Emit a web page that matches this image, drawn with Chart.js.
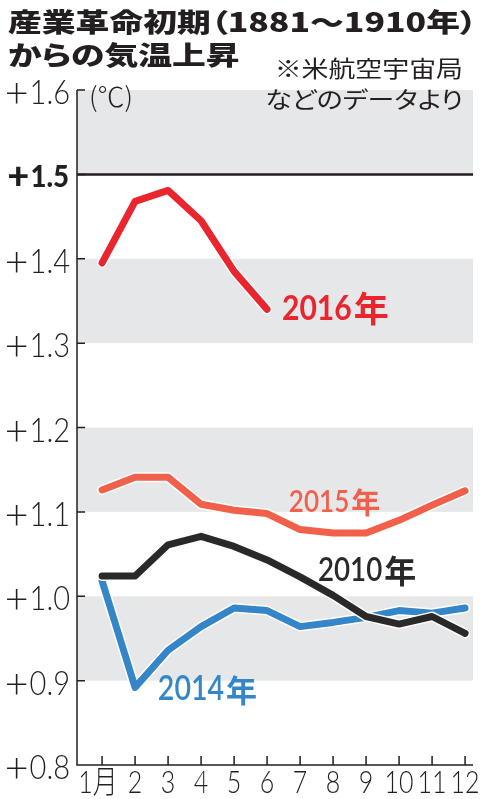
<!DOCTYPE html>
<html><head><meta charset="utf-8">
<script src="https://cdn.jsdelivr.net/npm/chart.js@4"></script>
<style>
html,body{margin:0;padding:0;background:#fff;width:483px;height:799px;overflow:hidden;}
#wrap{position:relative;width:483px;height:799px;}
canvas{position:absolute;left:0;top:0;}
.t{position:absolute;font-family:"Noto Sans CJK JP";white-space:nowrap;color:#231f20;line-height:1;font-feature-settings:"palt";}
#t1{left:8px;top:8px;font-size:26px;font-weight:900;transform:scaleX(1.3);transform-origin:left top;}
#t2{left:8px;top:41px;font-size:26px;font-weight:900;transform:scaleX(1.3);transform-origin:left top;}
#n1{right:20px;top:56px;font-size:23px;font-weight:400;transform:scaleX(1.17);transform-origin:right top;}
#n2{right:20px;top:87px;font-size:23px;font-weight:400;transform:scaleX(1.17);transform-origin:right top;}
#unit{left:89px;top:82px;font-size:27px;font-weight:300;transform:scaleX(1.0);transform-origin:left top;font-feature-settings:normal;}
</style>
</head><body>
<div id="wrap">
<canvas id="c" width="483" height="799"></canvas>
<div class="t" id="t1">産業革命初期（1881〜1910年）</div>
<div class="t" id="t2">からの気温上昇</div>
<div class="t" id="n1">※米航空宇宙局</div>
<div class="t" id="n2">などのデータより</div>
<div class="t" id="unit">(℃)</div>
</div>
<script>
// ---- data ----
const months = ['1月','2','3','4','5','6','7','8','9','10','11','12'];
const temp2016 = [1.395,1.468,1.481,1.445,1.385,1.340];
const temp2015 = [1.126,1.141,1.141,1.109,1.102,1.098,1.079,1.075,1.075,1.090,1.108,1.125];
const temp2010 = [1.024,1.024,1.061,1.071,1.059,1.043,1.023,1.001,0.976,0.967,0.976,0.956];
const temp2014 = [1.018,0.892,0.936,0.964,0.986,0.983,0.964,0.969,0.975,0.983,0.980,0.986];
const yTickValues = [0.8,0.9,1.0,1.1,1.2,1.3,1.4,1.5,1.6];
const yTickLabels = ['+0.8','+0.9','+1.0','+1.1','+1.2','+1.3','+1.4','+1.5','+1.6'];
const shadedBands = [[0.9,1.0],[1.1,1.2],[1.3,1.4],[1.5,1.6]];
const limitValue = 1.5;

const toPts = arr => arr.map((v,i)=>({x:i+1,y:v}));

function drawText(ctx, text, px, py, font, color, sx, align){
  ctx.save();
  ctx.font = font; ctx.fillStyle = color; ctx.textBaseline = 'alphabetic'; ctx.textAlign = 'left';
  const w = ctx.measureText(text).width * sx;
  const x0 = align === 'right' ? px - w : (align === 'center' ? px - w/2 : px);
  ctx.translate(x0, py); ctx.scale(sx, 1);
  ctx.fillText(text, 0, 0);
  ctx.restore();
  return w;
}

const AXIS = '#231f20';
const decor = {
  id: 'decor',
  beforeDatasetsDraw(chart){
    const {ctx, chartArea:a, scales:{x, y}} = chart;
    ctx.save();
    ctx.fillStyle = '#e6e7e8';
    shadedBands.forEach(([lo,hi])=>{
      const t = y.getPixelForValue(hi), b = y.getPixelForValue(lo);
      ctx.fillRect(a.left, t, a.right - a.left, b - t);
    });
    ctx.strokeStyle = AXIS;
    ctx.lineWidth = 2.5;
    const ly = y.getPixelForValue(limitValue);
    ctx.beginPath(); ctx.moveTo(a.left, ly); ctx.lineTo(a.right, ly); ctx.stroke();
    ctx.lineWidth = 1.5;
    ctx.beginPath();
    ctx.moveTo(a.left, a.top); ctx.lineTo(a.left, a.bottom); ctx.lineTo(a.right, a.bottom);
    yTickValues.forEach(v=>{ const py = y.getPixelForValue(v); ctx.moveTo(a.left, py); ctx.lineTo(a.left + 8, py); });
    months.forEach((m,i)=>{ const px = x.getPixelForValue(i+1); ctx.moveTo(px, a.bottom); ctx.lineTo(px, a.bottom - 9); });
    ctx.stroke();
    ctx.restore();
  },
  beforeDatasetDraw(chart, args){
    const {ctx} = chart;
    const pts = args.meta.data;
    if (!pts.length) return;
    const ds = chart.data.datasets[args.index];
    ctx.save();
    ctx.strokeStyle = '#ffffff';
    ctx.lineWidth = ds.borderWidth + 3;
    ctx.lineJoin = 'round'; ctx.lineCap = 'round';
    ctx.beginPath();
    pts.forEach((p,i)=>{ i ? ctx.lineTo(p.x, p.y) : ctx.moveTo(p.x, p.y); });
    ctx.stroke();
    ctx.restore();
  },
  afterDraw(chart){
    const {ctx, chartArea:a, scales:{x, y}} = chart;
    yTickValues.forEach((v,i)=>{
      const py = y.getPixelForValue(v);
      const lab = yTickLabels[i];
      const sign = lab.slice(0,1), num = lab.slice(1);
      if (v === limitValue) {
        const w = drawText(ctx, num, 69, py + 13, '900 30px Lato, "Noto Sans"', AXIS, 0.92, 'right');
        drawText(ctx, sign, 69 - w - 1, py + 15, '900 38px Lato, "Noto Sans"', AXIS, 1, 'right');
      } else {
        const w = drawText(ctx, num, 70, py + 14, '300 33px Lato, "Noto Sans"', AXIS, 0.88, 'right');
        drawText(ctx, sign, 70 - w - 1, py + 17, '300 41px Lato, "Noto Sans"', AXIS, 1, 'right');
      }
    });
    months.forEach((m,i)=>{
      const px = x.getPixelForValue(i+1) - (i === 0 ? 4 : 0);
      drawText(ctx, m, px, a.bottom + 28, '300 32px Lato, "Noto Sans CJK JP"', AXIS, 0.78, 'center');
    });
    chart.data.datasets.forEach(ds=>{
      const L = ds.yearLabel;
      const px = x.getPixelForValue(L.x), py = y.getPixelForValue(L.y);
      const w = drawText(ctx, L.digits, px, py, `${L.weight} ${L.size}px Lato, "Noto Sans"`, ds.borderColor, L.sx, 'left');
      drawText(ctx, '年', px + w + 2, py + 2, `${L.weight} ${L.ksize}px "Noto Sans CJK JP"`, ds.borderColor, 1, 'left');
    });
  }
};

new Chart(document.getElementById('c'), {
  type: 'line',
  data: {
    datasets: [
      {label:'2016年', data: toPts(temp2016), borderColor:'#e9262e', borderWidth:7, order:0,
       yearLabel:{digits:'2016', x:6.45, y:1.3274, weight:700, size:35, sx:0.86, ksize:35}},
      {label:'2010年', data: toPts(temp2010), borderColor:'#2b2829', borderWidth:7, order:1,
       yearLabel:{digits:'2010', x:7.54, y:1.0181, weight:600, size:33, sx:0.84, ksize:32}},
      {label:'2014年', data: toPts(temp2014), borderColor:'#3586c8', borderWidth:7, order:2,
       yearLabel:{digits:'2014', x:2.69, y:0.8770, weight:600, size:34, sx:0.84, ksize:31}},
      {label:'2015年', data: toPts(temp2015), borderColor:'#f0604a', borderWidth:7, order:3,
       yearLabel:{digits:'2015', x:6.66, y:1.0993, weight:600, size:31, sx:0.84, ksize:29}}
    ]
  },
  options: {
    responsive: false,
    animation: false,
    devicePixelRatio: 1,
    layout: {padding: {left:77, top:90, right:10, bottom:34}},
    elements: {
      point: {radius:0, hoverRadius:0},
      line: {tension:0, borderCapStyle:'round', borderJoinStyle:'round', fill:false}
    },
    plugins: {legend:{display:false}, tooltip:{enabled:false}},
    scales: {
      x: {type:'linear', min:0.24, max:12.24, display:false},
      y: {type:'linear', min:0.8, max:1.6, display:false}
    }
  },
  plugins: [decor]
});
</script>
</body></html>
